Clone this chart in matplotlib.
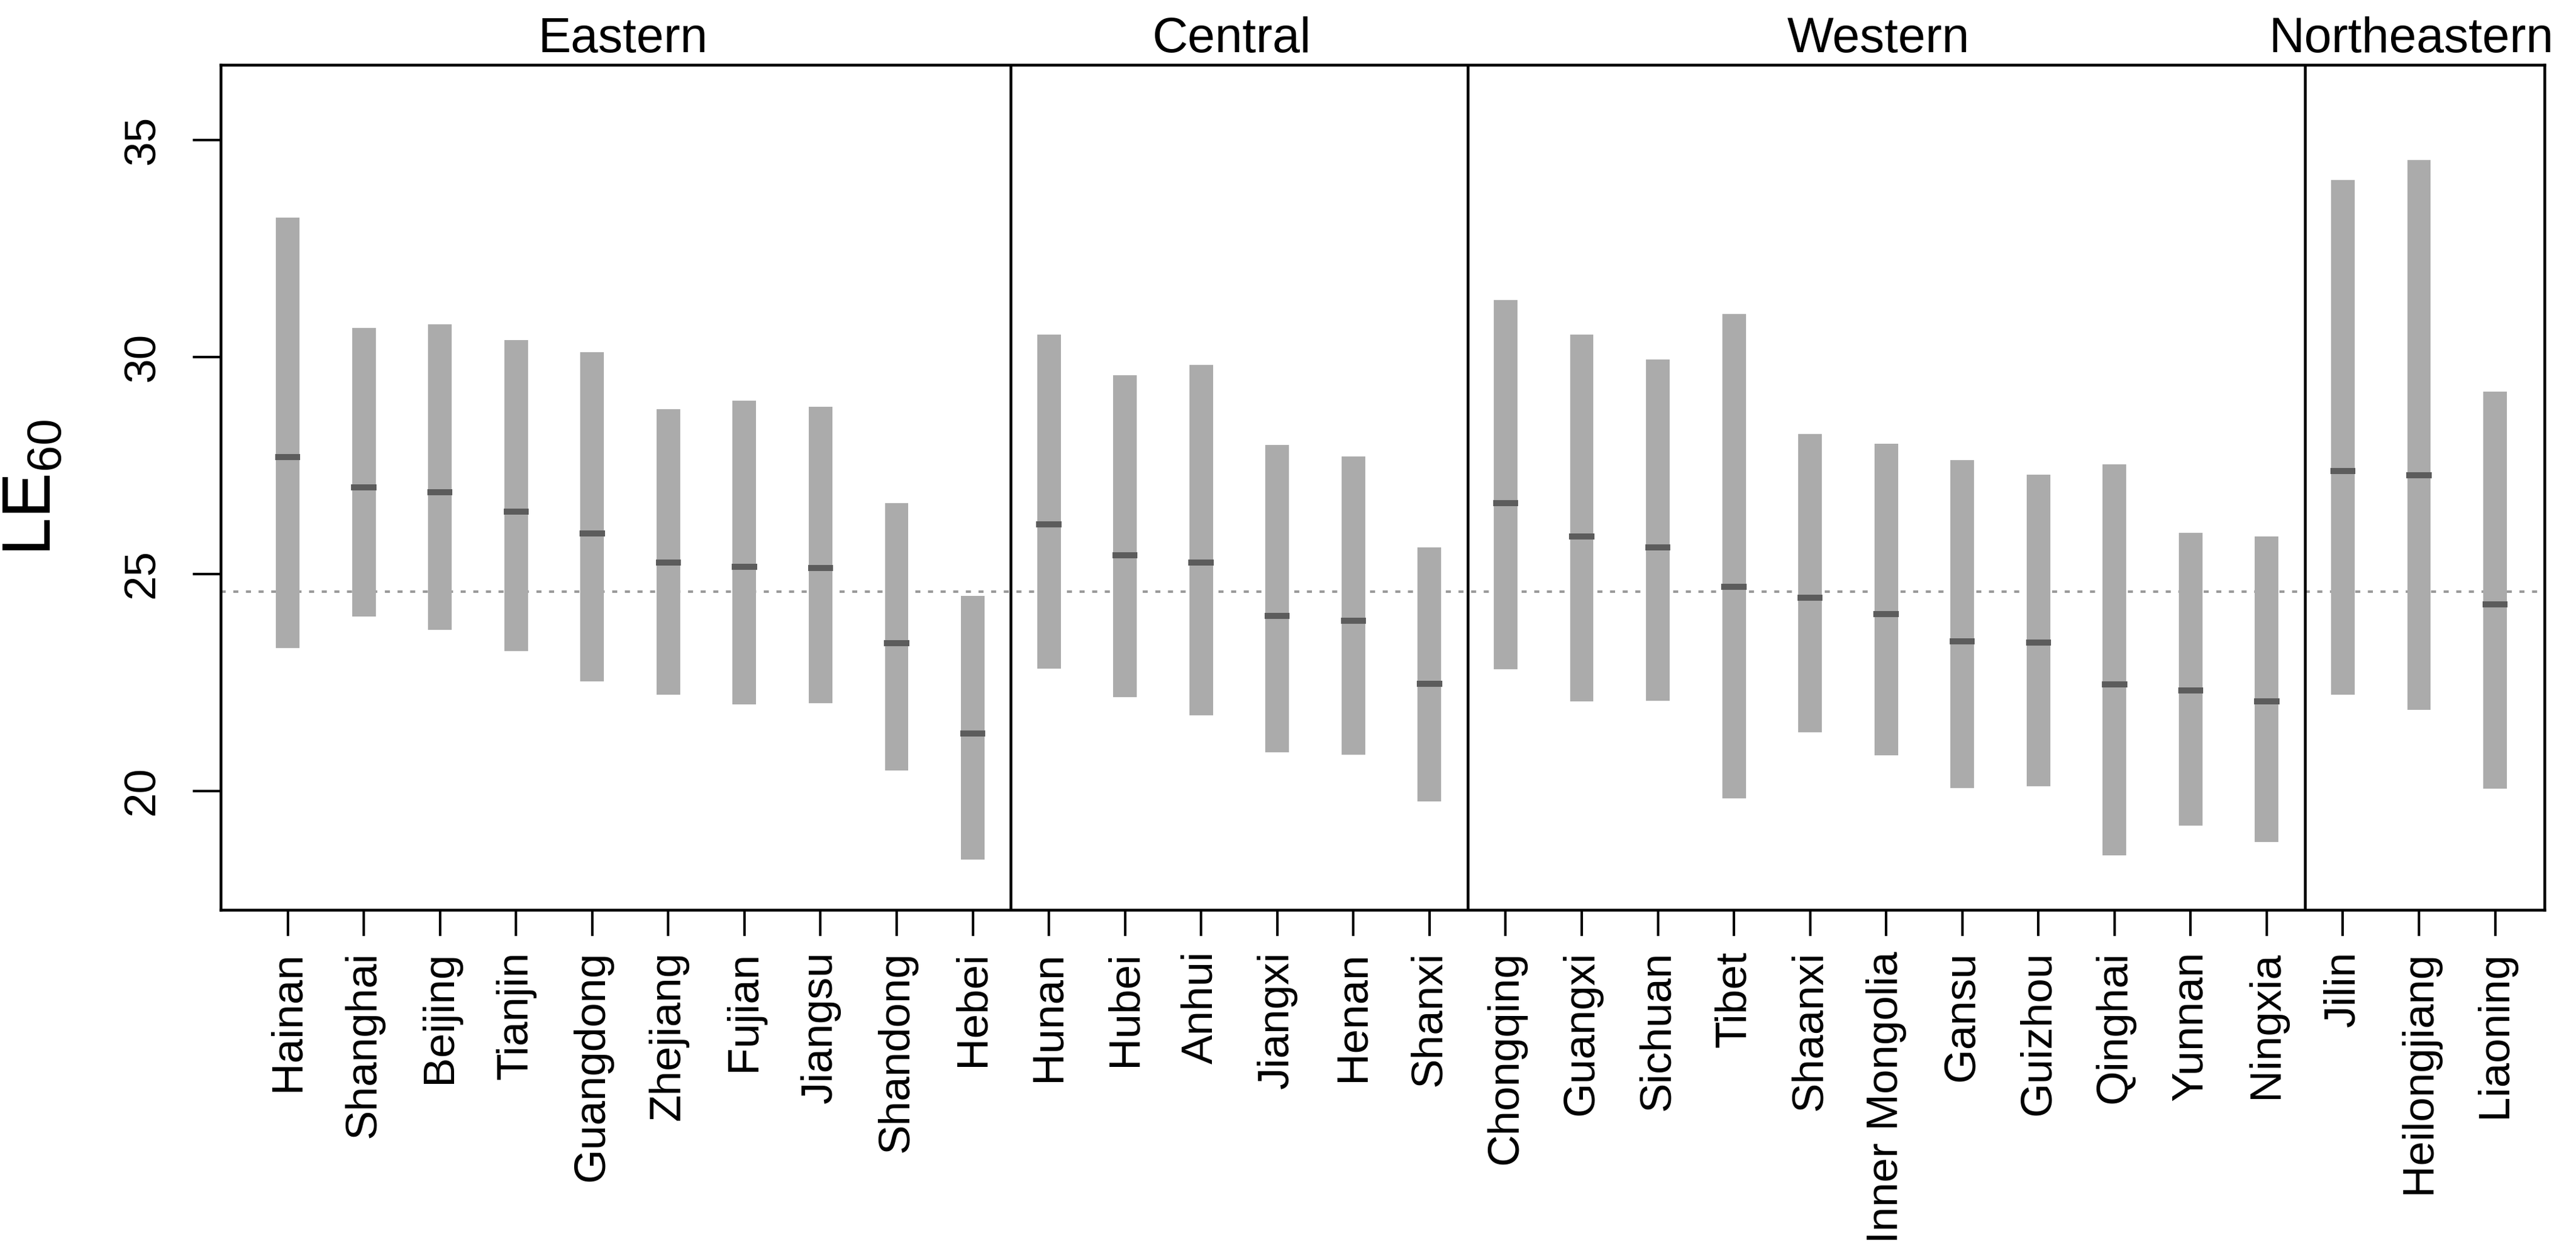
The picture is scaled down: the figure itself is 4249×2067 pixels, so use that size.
import numpy as np
import matplotlib
matplotlib.use("Agg")
import matplotlib.pyplot as plt
import matplotlib.transforms as mtransforms

plt.rcParams['font.family'] = ['Liberation Sans', 'DejaVu Sans']
plt.rcParams['mathtext.default'] = 'regular'

# regions and provinces (in plotting order)
regions = ["Eastern", "Central", "Western", "Northeastern"]
region_sizes = [10, 6, 11, 3]
provinces = ["Hainan", "Shanghai", "Beijing", "Tianjin", "Guangdong", "Zhejiang",
             "Fujian", "Jiangsu", "Shandong", "Hebei",
             "Hunan", "Hubei", "Anhui", "Jiangxi", "Henan", "Shanxi",
             "Chongqing", "Guangxi", "Sichuan", "Tibet", "Shaanxi", "Inner Mongolia",
             "Gansu", "Guizhou", "Qinghai", "Yunnan", "Ningxia",
             "Jilin", "Heilongjiang", "Liaoning"]

# LE60 range (low / high) and median per province
le_low = [23.29, 24.02, 23.71, 23.22, 22.52, 22.22, 22.00, 22.02, 20.48, 18.42,
          22.82, 22.16, 21.75, 20.89, 20.83, 19.76,
          22.80, 22.06, 22.08, 19.83, 21.35, 20.82, 20.07, 20.11, 18.52, 19.20, 18.83,
          22.22, 21.87, 20.06]
le_high = [33.21, 30.67, 30.75, 30.39, 30.11, 28.80, 28.99, 28.86, 26.63, 24.50,
           30.52, 29.58, 29.82, 27.97, 27.71, 25.61,
           31.31, 30.52, 29.94, 30.99, 28.23, 28.00, 27.62, 27.29, 27.52, 25.95, 25.86,
           34.08, 34.54, 29.20]
le_median = [27.69, 27.00, 26.89, 26.44, 25.93, 25.27, 25.17, 25.14, 23.41, 21.33,
             26.15, 25.43, 25.27, 24.04, 23.92, 22.47,
             26.63, 25.86, 25.61, 24.70, 24.46, 24.07, 23.45, 23.42, 22.45, 22.32, 22.07,
             27.37, 27.28, 24.30]
national_le = 24.6

x = np.arange(1, len(provinces) + 1)
low = np.array(le_low)
high = np.array(le_high)
med = np.array(le_median)
w = 0.31

fig = plt.figure(figsize=(4249 / 300, 2067 / 300), dpi=300)
ax = fig.add_axes([0.0857, 0.2738, 0.9021, 0.6744])

ax.bar(x, high - low, bottom=low, width=w, color='#ababab', linewidth=0, zorder=2)
ax.hlines(med, x - w / 2 - 0.01, x + w / 2 + 0.01, color='#5c5c5c', lw=2.4, zorder=3)
ax.axhline(national_le, color='#9a9a9a', lw=1.0, linestyle=(0, (2, 3)), zorder=1)

# region dividers and labels
bounds = np.cumsum(region_sizes)
for b in bounds[:-1]:
    ax.axvline(b + 0.5, color='black', lw=1.1, zorder=4)
trans = mtransforms.blended_transform_factory(ax.transData, ax.transAxes)
start = 0
for name, n in zip(regions, region_sizes):
    centre = x[start:start + n].mean() - 0.1
    ax.text(centre, 1.015, name, transform=trans, ha='center', va='baseline',
            fontsize=19.5)
    start += n

ax.set_xlim(0.12, 30.65)
ax.set_ylim(17.26, 36.73)
ax.set_xticks(x)
ax.set_xticklabels(provinces, rotation=90, fontsize=17.5)
ax.set_yticks([20, 25, 30, 35])
ax.set_yticklabels(['20', '25', '30', '35'], rotation=90, va='center', fontsize=17.5)
ax.tick_params(axis='x', length=10.3, width=1.0, pad=6)
ax.tick_params(axis='y', length=11, width=1.0, pad=12)
for s in ax.spines.values():
    s.set_linewidth(1.1)

ax.set_ylabel('LE$_{60}$', fontsize=27)
ax.yaxis.set_label_coords(-0.0668, 0.5)

fig.savefig('out.png', dpi=300)
